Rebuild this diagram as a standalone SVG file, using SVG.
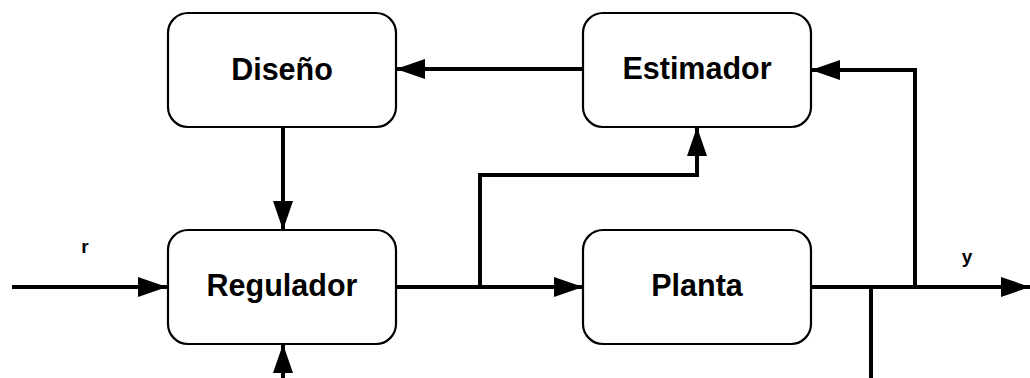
<svg xmlns="http://www.w3.org/2000/svg" width="1030" height="378" viewBox="0 0 1030 378">
  <style>
    .box { fill: #fff; stroke: #000; stroke-width: 2.2; }
    .lbl { font-family: "Liberation Sans", Arial, sans-serif; font-weight: bold; font-size: 30.5px; text-anchor: middle; fill: #000; }
    .sig { font-family: "Liberation Sans", Arial, sans-serif; font-weight: bold; font-size: 19px; text-anchor: middle; fill: #000; }
    .wire { fill: none; stroke: #000; stroke-width: 4; stroke-linejoin: miter; }
  </style>
  <defs>
    <marker id="ah" viewBox="0 0 29 20" refX="29" refY="10" markerWidth="29" markerHeight="20" markerUnits="userSpaceOnUse" orient="auto">
      <path d="M0,0 L29,10 L0,20 Z" fill="#000"/>
    </marker>
  </defs>

  <g id="connectors">
    <!-- reference input r -->
    <path class="wire" d="M12,287 H167" marker-end="url(#ah)"/>
    <!-- regulator to plant -->
    <path class="wire" d="M396,287 H583" marker-end="url(#ah)"/>
    <!-- control signal tapped to estimator -->
    <path class="wire" d="M480,287 V175 H697 V127" marker-end="url(#ah)"/>
    <!-- estimator to design -->
    <path class="wire" d="M583,69 H396" marker-end="url(#ah)"/>
    <!-- design to regulator -->
    <path class="wire" d="M283,127 V230" marker-end="url(#ah)"/>
    <!-- lower input into regulator -->
    <path class="wire" d="M283,378 V344" marker-end="url(#ah)"/>
    <!-- plant output y -->
    <path class="wire" d="M811,287 H1030" marker-end="url(#ah)"/>
    <!-- output fed back to estimator -->
    <path class="wire" d="M915,287 V70 H811" marker-end="url(#ah)"/>
    <!-- disturbance line below output -->
    <path class="wire" d="M871,287 V378"/>
  </g>

  <g id="diseno">
    <rect class="box" x="168" y="13" width="228" height="114" rx="20"/>
    <text class="lbl" x="282" y="80">Diseño</text>
  </g>
  <g id="estimador">
    <rect class="box" x="583" y="13" width="228" height="114" rx="20"/>
    <text class="lbl" x="697" y="79">Estimador</text>
  </g>
  <g id="regulador">
    <rect class="box" x="168" y="230" width="228" height="114" rx="20"/>
    <text class="lbl" x="282" y="296">Regulador</text>
  </g>
  <g id="planta">
    <rect class="box" x="583" y="230" width="228" height="114" rx="20"/>
    <text class="lbl" x="697" y="296">Planta</text>
  </g>

  <text class="sig" x="85" y="253">r</text>
  <text class="sig" x="967" y="263">y</text>
</svg>
